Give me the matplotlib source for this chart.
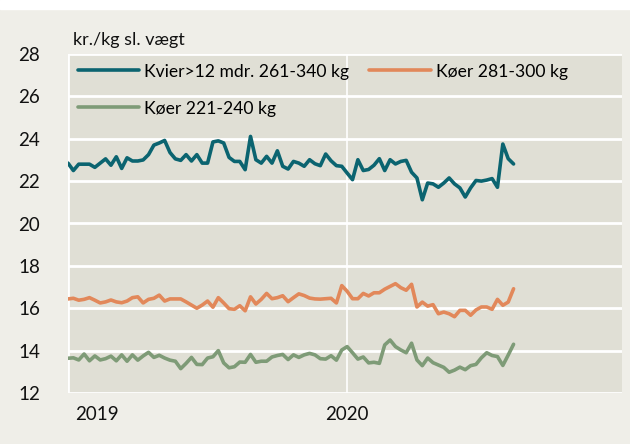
"""
Slagtepriser kvier og køer, 2019-2020 (kr./kg sl. vægt), ugentlige noteringer.
"""

import numpy as np
import matplotlib
matplotlib.use("Agg")
import matplotlib.pyplot as plt
from matplotlib.patches import Rectangle


# ----------------------------------------------------------------------------
# Data (en værdi pr. uge fra uge 1 2019)
# ----------------------------------------------------------------------------
kvier_261_340 = [
    22.85, 22.5, 22.8, 22.8, 22.8, 22.65, 22.85, 23.05, 22.75, 23.15,
    22.6, 23.1, 22.95, 22.95, 23.0, 23.25, 23.7, 23.8, 23.92, 23.35,
    23.05, 22.98, 23.25, 22.95, 23.25, 22.85, 22.85, 23.85, 23.9, 23.8,
    23.12, 22.93, 22.93, 22.54, 24.11, 23.01, 22.85, 23.17, 22.85, 23.43,
    22.7, 22.57, 22.93, 22.85, 22.7, 23.01, 22.82, 22.73, 23.28, 22.96,
    22.73, 22.7, 22.38, 22.07, 23.01, 22.5, 22.55, 22.75, 23.06, 22.5,
    23.01, 22.81, 22.93, 22.98, 22.42, 22.15, 21.12, 21.91, 21.87, 21.71,
    21.91, 22.15, 21.87, 21.68, 21.25, 21.68, 22.03, 22.0, 22.05, 22.12,
    21.71, 23.75, 23.06, 22.81,
]
koer_281_300 = [
    16.44, 16.47, 16.38, 16.42, 16.5, 16.38, 16.25, 16.3, 16.39, 16.3,
    16.26, 16.34, 16.5, 16.54, 16.25, 16.42, 16.47, 16.62, 16.34, 16.44,
    16.44, 16.44, 16.3, 16.15, 16.0, 16.15, 16.34, 16.05, 16.5, 16.25,
    15.98, 15.95, 16.12, 15.88, 16.54, 16.2, 16.42, 16.7, 16.45, 16.5,
    16.59, 16.31, 16.5, 16.68, 16.6, 16.48, 16.44, 16.43, 16.45, 16.47,
    16.25, 17.07, 16.8, 16.45, 16.45, 16.7, 16.58, 16.73, 16.73, 16.9,
    17.03, 17.16, 16.97, 16.85, 17.13, 16.06, 16.29, 16.1, 16.17, 15.74,
    15.82, 15.74, 15.6, 15.9, 15.9, 15.67, 15.92, 16.06, 16.06, 15.95,
    16.42, 16.14, 16.29, 16.92,
]
koer_221_240 = [
    13.64, 13.66, 13.56, 13.84, 13.52, 13.75, 13.56, 13.62, 13.74, 13.52,
    13.8, 13.5, 13.8, 13.55, 13.75, 13.92, 13.68, 13.78, 13.65, 13.55,
    13.5, 13.15, 13.4, 13.68, 13.35, 13.34, 13.65, 13.71, 14.0, 13.42,
    13.19, 13.24, 13.46, 13.45, 13.82, 13.45, 13.5, 13.5, 13.7, 13.77,
    13.82, 13.58, 13.8, 13.68, 13.8, 13.87, 13.8, 13.62, 13.6, 13.76,
    13.55, 14.03, 14.19, 13.9, 13.6, 13.7, 13.42, 13.45, 13.4, 14.27,
    14.5, 14.19, 14.03, 13.9, 14.35, 13.56, 13.29, 13.65, 13.43, 13.32,
    13.21, 12.98, 13.08, 13.22, 13.1, 13.29, 13.35, 13.66, 13.9, 13.77,
    13.72, 13.3, 13.79, 14.3,
]
year_labels = ["2019", "2020"]
year_starts = [0, 52]          # uge-index hvor året starter
label_pos = [5.4, 52]          # hvor årstallet står
y_ticks = [12, 14, 16, 18, 20, 22, 24, 26, 28]

# ----------------------------------------------------------------------------
# Stil
# ----------------------------------------------------------------------------
BG_OUTER = "#efeee8"
BG_PLOT = "#e0dfd5"
C_TEAL = "#0b6470"
C_ORANGE = "#e2885a"
C_GREEN = "#7e9b77"

plt.rcParams["font.family"] = ["Lato", "DejaVu Sans"]

fig = plt.figure(figsize=(6.3, 4.44), dpi=100, facecolor=BG_OUTER)
fig.patches.append(Rectangle((0, 1 - 9 / 444), 1, 9 / 444,
                             transform=fig.transFigure, color="white", zorder=0))
ax = fig.add_axes([68 / 630, 51 / 444, 554 / 630, 339 / 444])
ax.set_facecolor(BG_PLOT)

weeks = np.arange(len(kvier_261_340))
ax.plot(weeks, kvier_261_340, color=C_TEAL, lw=2.6,
        label="Kvier>12 mdr. 261-340 kg", solid_capstyle="round", zorder=3)
ax.plot(weeks, koer_221_240, color=C_GREEN, lw=2.6,
        label="Køer 221-240 kg", solid_capstyle="round", zorder=3)
ax.plot(weeks, koer_281_300, color=C_ORANGE, lw=2.6,
        label="Køer 281-300 kg", solid_capstyle="round", zorder=3)

ax.set_ylim(12, 28)
ax.set_xlim(0, 103.2)
ax.set_yticks(y_ticks)
ax.set_yticklabels([str(t) for t in y_ticks], fontsize=13.5)
ax.set_xticks(label_pos)
ax.set_xticklabels(year_labels, fontsize=13.5)
ax.tick_params(axis="both", length=0, colors="#111111")
ax.tick_params(axis="y", pad=20)
ax.tick_params(axis="x", pad=9)

# vandrette gitterlinjer + lodrette linjer ved årsskift
ax.grid(True, axis="y", color="white", lw=2, zorder=1)
for x0 in year_starts:
    ax.axvline(x0, color="white", lw=2 if x0 == 0 else 1.2, zorder=1)
ax.set_axisbelow(True)
for s in ax.spines.values():
    s.set_visible(False)

fig.text(73 / 630, 1 - 40 / 444, "kr./kg sl. vægt", fontsize=13,
         va="center", ha="left", color="#111111")

ax.legend(ncol=2, frameon=False, loc="upper left", fontsize=12.6,
          bbox_to_anchor=(0.0, 1.0), handlelength=3.5, handletextpad=0.3,
          columnspacing=1.15, labelspacing=1.2, borderaxespad=0.35,
          borderpad=0.2)

fig.savefig("out.png", dpi=100, facecolor=fig.get_facecolor())
